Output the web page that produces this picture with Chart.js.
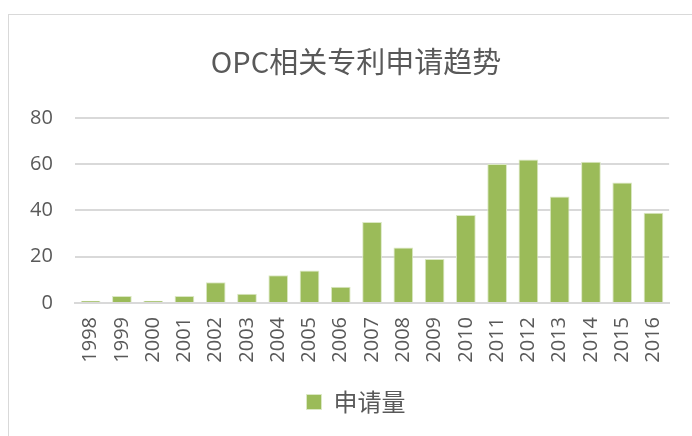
<!DOCTYPE html>
<html lang="zh">
<head>
    <meta charset="UTF-8">
    <title>chart</title>
    <style>
        html, body { margin: 0; padding: 0; background: #fff; }
        #wrap { position: relative; width: 692px; height: 436px; overflow: hidden; }
        #frame { position: absolute; left: 8px; top: 14px; width: 720px; height: 460px; border: 1px solid #d9d9d9; box-sizing: border-box; }
        #chart { position: absolute; left: 0; top: 0; }
    </style>
</head>
<body>
    <div id="wrap">
        <div id="frame"></div>
        <canvas id="chart" width="692" height="436"></canvas>
    </div>

    <script src="https://cdn.jsdelivr.net/npm/chart.js"></script>
    <script>
        // 数据
        var years = ['1998','1999','2000','2001','2002','2003','2004','2005','2006','2007',
                     '2008','2009','2010','2011','2012','2013','2014','2015','2016'];
        var counts = [1, 3, 1, 3, 9, 4, 12, 14, 7, 35, 24, 19, 38, 60, 62, 46, 61, 52, 39];
        var yTicks = [0, 20, 40, 60, 80];

        var cjkFont = '"Noto Sans CJK SC", "Noto Sans", sans-serif';
        var numFont = '"Open Sans", "Noto Sans CJK SC", sans-serif';
        var textColor = '#595959';

        new Chart(document.getElementById('chart'), {
            type: 'bar',
            data: {
                labels: years,
                datasets: [{
                    label: '申请量',
                    data: counts,
                    backgroundColor: '#9bbb59',
                    borderColor: '#dbe8c4',
                    borderWidth: 1,
                    categoryPercentage: 1,
                    barPercentage: 0.63
                }]
            },
            options: {
                responsive: false,
                animation: false,
                layout: { padding: { left: 40, right: 20, top: 28, bottom: 12 } },
                plugins: {
                    title: {
                        display: true,
                        text: 'OPC相关专利申请趋势',
                        color: textColor,
                        font: { family: cjkFont, size: 29, weight: 'normal' },
                        padding: { top: 17, bottom: 38 }
                    },
                    legend: {
                        position: 'bottom',
                        labels: {
                            color: textColor,
                            font: { family: cjkFont, size: 24 },
                            boxWidth: 15,
                            boxHeight: 15,
                            padding: 10
                        }
                    },
                    tooltip: { enabled: false }
                },
                scales: {
                    x: {
                        grid: { display: false, drawTicks: false },
                        border: { color: '#d9d9d9', width: 2 },
                        ticks: {
                            color: textColor,
                            font: { family: numFont, size: 20 },
                            maxRotation: 90,
                            minRotation: 90,
                            padding: 14
                        },
                        afterFit: function (scale) {
                            scale.height = 77;
                        }
                    },
                    y: {
                        min: 0,
                        max: 80,
                        afterBuildTicks: function (axis) {
                            axis.ticks = yTicks.map(function (v) { return { value: v }; });
                        },
                        grid: { color: '#d9d9d9', lineWidth: 2, drawTicks: false },
                        border: { display: false },
                        // labels mirrored so they are not clipped, then pulled back left
                        ticks: {
                            color: textColor,
                            font: { family: numFont, size: 20 },
                            mirror: true,
                            crossAlign: 'far',
                            padding: -45
                        },
                        afterFit: function (scale) {
                            scale.width = 35;
                        }
                    }
                }
            }
        });
    </script>
</body>
</html>
